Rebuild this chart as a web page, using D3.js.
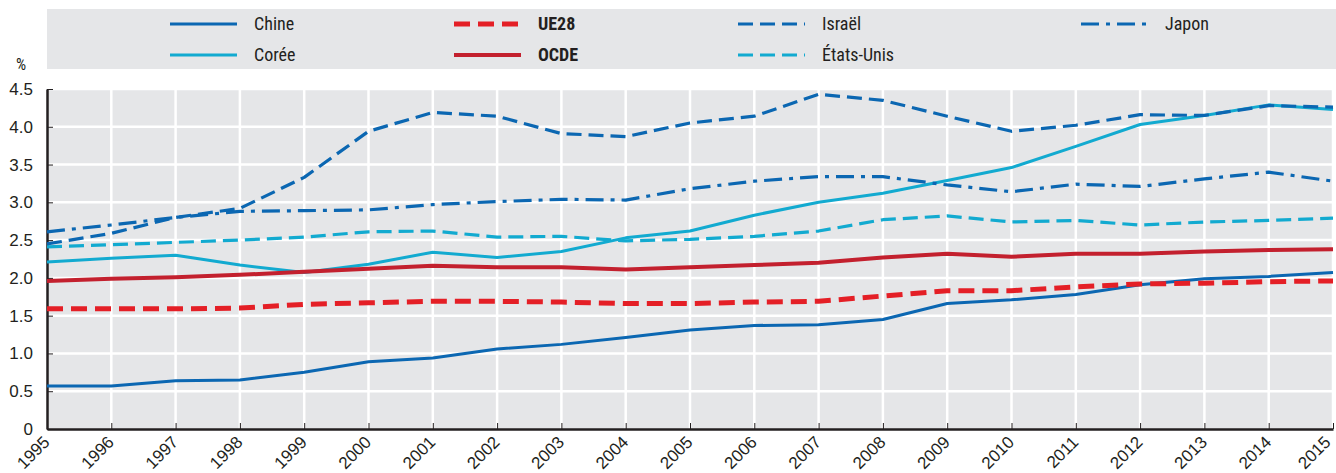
<!DOCTYPE html>
<html>
<head>
<meta charset="utf-8">
<script src="https://cdn.jsdelivr.net/npm/d3@7"></script>
<style>
  body { margin: 0; background: #fff; }
  svg { display: block; font-family: "Liberation Sans Narrow", "Roboto Condensed", "DejaVu Sans Condensed", "Arial Narrow", sans-serif; }
</style>
</head>
<body>
<svg id="chart"></svg>
<script>
// data
const years = d3.range(1995, 2016);
const yTicks = [0, 0.5, 1, 1.5, 2, 2.5, 3, 3.5, 4, 4.5];

const chine = [0.57, 0.57, 0.64, 0.65, 0.75, 0.89, 0.94, 1.06, 1.12, 1.21, 1.31, 1.37, 1.38, 1.45, 1.66, 1.71, 1.78, 1.91, 1.99, 2.02, 2.07];
const coree = [2.21, 2.26, 2.30, 2.17, 2.07, 2.18, 2.34, 2.27, 2.35, 2.53, 2.62, 2.83, 3.00, 3.12, 3.29, 3.46, 3.74, 4.03, 4.15, 4.29, 4.23];
const ue28 = [1.59, 1.59, 1.59, 1.60, 1.65, 1.67, 1.69, 1.69, 1.68, 1.66, 1.66, 1.68, 1.69, 1.76, 1.83, 1.83, 1.88, 1.92, 1.93, 1.95, 1.96];
const ocde = [1.96, 1.99, 2.01, 2.04, 2.08, 2.12, 2.16, 2.14, 2.14, 2.11, 2.14, 2.17, 2.20, 2.27, 2.32, 2.28, 2.32, 2.32, 2.35, 2.37, 2.38];
const israel = [2.45, 2.59, 2.80, 2.92, 3.33, 3.94, 4.19, 4.14, 3.91, 3.87, 4.05, 4.14, 4.43, 4.35, 4.14, 3.94, 4.02, 4.16, 4.15, 4.28, 4.26];
const japon = [2.61, 2.70, 2.80, 2.88, 2.89, 2.90, 2.97, 3.01, 3.04, 3.03, 3.18, 3.28, 3.34, 3.34, 3.23, 3.14, 3.24, 3.21, 3.31, 3.40, 3.28];
const etatsUnis = [2.41, 2.44, 2.47, 2.50, 2.54, 2.61, 2.62, 2.54, 2.55, 2.49, 2.51, 2.55, 2.62, 2.77, 2.82, 2.74, 2.76, 2.70, 2.74, 2.76, 2.79];

const darkBlue = "#0b67b2";
const cyan = "#12aad0";
const red = "#e41f26";
const darkRed = "#c3202e";

// draw order: bottom first
let series = [
    {name: "Chine", values: chine, color: darkBlue, width: 3, dash: null, bold: false},
    {name: "Corée", values: coree, color: cyan, width: 3, dash: null, bold: false},
    {name: "UE28", values: ue28, color: red, width: 5, dash: "16,8", bold: true},
    {name: "OCDE", values: ocde, color: darkRed, width: 4, dash: null, bold: true},
    {name: "Israël", values: israel, color: darkBlue, width: 3.2, dash: "15,7", bold: false},
    {name: "États-Unis", values: etatsUnis, color: cyan, width: 3.2, dash: "15,7", bold: false},
    {name: "Japon", values: japon, color: darkBlue, width: 3.2, dash: "18,7,4,7", bold: false}
];

let width = 1336, height = 473;
let margin = {top: 89, right: 3, bottom: 44, left: 47};

var svg = d3.select("#chart").attr("width", width).attr("height", height);

let x = d3.scaleLinear().domain([1995, 2015]).range([margin.left, width - margin.right]);
let y = d3.scaleLinear().domain([0, 4.5]).range([height - margin.bottom, margin.top]);

// legend box
svg.append("rect")
    .attr("x", 47).attr("y", 9)
    .attr("width", width - 47).attr("height", 60)
    .attr("fill", "#e5e6e8");

let legendPos = {
    "Chine": [170, 24], "Corée": [170, 55],
    "UE28": [454, 24], "OCDE": [454, 55],
    "Israël": [738, 24], "États-Unis": [738, 55],
    "Japon": [1081, 24]
};

let legend = svg.append("g").attr("class", "legend");
series.forEach(s => {
    let p = legendPos[s.name];
    legend.append("line")
        .attr("x1", p[0]).attr("x2", p[0] + 67)
        .attr("y1", p[1]).attr("y2", p[1])
        .attr("stroke", s.color)
        .attr("stroke-width", s.width)
        .attr("stroke-dasharray", s.dash);
    legend.append("text")
        .attr("x", p[0] + 84)
        .attr("y", p[1] + 6)
        .attr("font-size", 18)
        .attr("font-weight", s.bold ? "bold" : null)
        .attr("fill", "#231f20")
        .text(s.name);
});

svg.append("text")
    .attr("x", 16).attr("y", 70)
    .attr("font-size", 16)
    .attr("fill", "#231f20")
    .text("%");

// plot background
svg.append("rect")
    .attr("x", margin.left).attr("y", margin.top)
    .attr("width", width - margin.left - margin.right)
    .attr("height", height - margin.bottom - margin.top)
    .attr("fill", "#e5e6e8");

// grid
let grid = svg.append("g").attr("class", "grid")
    .attr("stroke", "#fff").attr("stroke-width", 2.5);
grid.selectAll("line.v")
    .data(years.slice(1))
    .enter().append("line")
    .attr("x1", d => x(d)).attr("x2", d => x(d))
    .attr("y1", margin.top).attr("y2", height - margin.bottom);
grid.selectAll("line.h")
    .data(yTicks.slice(1))
    .enter().append("line")
    .attr("x1", margin.left).attr("x2", width - margin.right)
    .attr("y1", d => y(d)).attr("y2", d => y(d));

// axes
let xAxis = d3.axisBottom(x)
    .tickValues(years)
    .tickFormat(d3.format("d"))
    .tickSize(-6)
    .tickSizeOuter(0);
let gx = svg.append("g")
    .attr("transform", `translate(0,${height - margin.bottom})`)
    .call(xAxis);
gx.select(".domain").attr("stroke", "#231f20").attr("stroke-width", 2.5);
gx.selectAll(".tick line").attr("stroke", "#231f20").attr("stroke-width", 1);
gx.selectAll(".tick text")
    .attr("font-size", 17)
    .attr("fill", "#231f20")
    .attr("text-anchor", "end")
    .attr("x", 0)
    .attr("y", 0)
    .attr("dy", "0.35em")
    // last label pulled in a little so it stays inside the frame
    .attr("transform", d => d === 2015 ? "translate(-6,10) rotate(-45)" : "translate(-1,10) rotate(-45)");

let yAxis = d3.axisLeft(y)
    .tickValues(yTicks)
    .tickFormat(d => d === 0 ? "0" : d3.format(".1f")(d))
    .tickSize(-6)
    .tickSizeOuter(0)
    .tickPadding(14);
let gy = svg.append("g")
    .attr("transform", `translate(${margin.left},0)`)
    .call(yAxis);
gy.select(".domain").attr("stroke", "#231f20").attr("stroke-width", 2.5);
gy.selectAll(".tick line").attr("stroke", "#231f20").attr("stroke-width", 1);
gy.selectAll(".tick text")
    .attr("font-size", 17)
    .attr("fill", "#231f20");

// lines
let line = d3.line()
    .x((d, i) => x(years[i]))
    .y(d => y(d));

svg.append("g").attr("class", "lines")
    .selectAll("path")
    .data(series)
    .enter().append("path")
    .attr("d", s => line(s.values))
    .attr("fill", "none")
    .attr("stroke", s => s.color)
    .attr("stroke-width", s => s.width)
    .attr("stroke-dasharray", s => s.dash)
    .attr("stroke-linejoin", "round");
</script>
</body>
</html>
